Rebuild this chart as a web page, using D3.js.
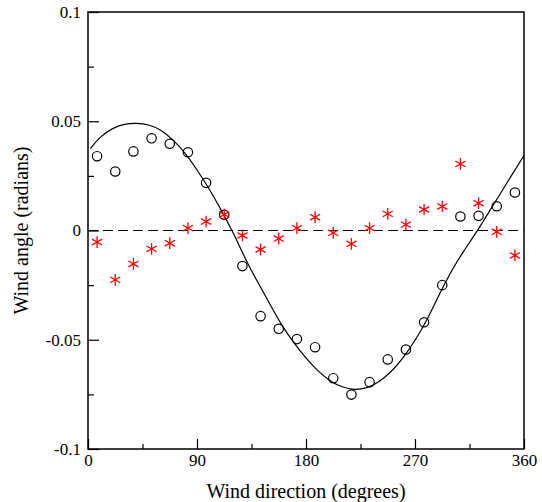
<!DOCTYPE html>
<html>
<head>
<meta charset="utf-8">
<script src="https://cdn.jsdelivr.net/npm/d3@7"></script>
<style>
  body { margin: 0; background: #fff; }
  text { font-family: "Liberation Serif", "Times New Roman", serif; }
</style>
</head>
<body>
<div id="chart"></div>
<script>
// Wind directions of the measured bins (degrees)
const directions = [7.5, 22.5, 37.5, 52.5, 67.5, 82.5, 97.5, 112.5, 127.5, 142.5, 157.5, 172.5,
                    187.5, 202.5, 217.5, 232.5, 247.5, 262.5, 277.5, 292.5, 307.5, 322.5, 337.5, 352.5];

// Open circles (black)
const circleValues = [0.034, 0.027, 0.0362, 0.0422, 0.0397, 0.0358, 0.0218, 0.0072, -0.0163, -0.0392, -0.045, -0.0497,
                      -0.0534, -0.0676, -0.0751, -0.0694, -0.059, -0.0545, -0.042, -0.025, 0.0064, 0.0067, 0.0111, 0.0174];

// Red asterisks
const starValues = [-0.0053, -0.0226, -0.0153, -0.0084, -0.0058, 0.0011, 0.0041, 0.0073, -0.0023, -0.0087, -0.0037, 0.0011,
                    0.0061, -0.0011, -0.0061, 0.0011, 0.0076, 0.0027, 0.0096, 0.011, 0.0305, 0.0125, -0.0006, -0.0114];

// Fitted curve
const curveDirections = [2, 10, 20, 30, 40, 50, 60, 70, 80, 90, 100, 110, 120, 130, 140, 150, 160, 170, 180,
                         190, 200, 210, 220, 230, 240, 250, 260, 270, 280, 290, 300, 310, 320, 330, 340, 350, 360];
const curveValues = [0.0375, 0.043, 0.0468, 0.0488, 0.0492, 0.0486, 0.0462, 0.0417, 0.0357, 0.0278, 0.0192, 0.0094,
                     -0.001, -0.0132, -0.0235, -0.0335, -0.0435, -0.0515, -0.0585, -0.0645, -0.069, -0.0718, -0.073,
                     -0.0722, -0.0695, -0.065, -0.0585, -0.0505, -0.041, -0.0292, -0.0185, -0.0095, -0.0015, 0.0075,
                     0.0165, 0.0255, 0.0343];

const xMajor = [0, 90, 180, 270, 360];
const xMinor = [45, 135, 225, 315];
const yMajor = [-0.1, -0.05, 0, 0.05, 0.1];
const yMajorLabels = ["-0.1", "-0.05", "0", "0.05", "0.1"];
const yMinor = [-0.075, -0.025, 0.025, 0.075];

const width = 542, height = 502;
const margin = { top: 12, right: 18, bottom: 53, left: 88 };
const w = width - margin.left - margin.right;
const h = height - margin.top - margin.bottom;

const svg = d3.select("#chart")
    .append("svg")
    .attr("width", width)
    .attr("height", height);

const g = svg.append("g")
    .attr("transform", `translate(${margin.left},${margin.top})`);

const x = d3.scaleLinear().domain([0, 360]).range([0, w]);
const y = d3.scaleLinear().domain([-0.1, 0.1]).range([h, 0]);

// zero line (dashed)
g.append("line")
    .attr("x1", x(0)).attr("x2", x(360))
    .attr("y1", y(0)).attr("y2", y(0))
    .attr("stroke", "#000")
    .attr("stroke-width", 1.1)
    .attr("stroke-dasharray", "10,5");

// fitted curve
const line = d3.line()
    .x(d => x(d[0]))
    .y(d => y(d[1]))
    .curve(d3.curveBasis);

g.append("path")
    .datum(curveDirections.map((d, i) => [d, curveValues[i]]))
    .attr("d", line)
    .attr("fill", "none")
    .attr("stroke", "#000")
    .attr("stroke-width", 1.2);

// circles
g.selectAll(".pt")
    .data(directions)
    .enter()
    .append("circle")
    .attr("class", "pt")
    .attr("cx", d => x(d))
    .attr("cy", (d, i) => y(circleValues[i]))
    .attr("r", 4.7)
    .attr("fill", "none")
    .attr("stroke", "#000")
    .attr("stroke-width", 1.2);

// red asterisks
const star = d3.symbol().type(d3.symbolAsterisk).size(95);
g.selectAll(".star")
    .data(directions)
    .enter()
    .append("path")
    .attr("class", "star")
    .attr("d", star)
    .attr("transform", (d, i) => `translate(${x(d)},${y(starValues[i])})`)
    .attr("fill", "none")
    .attr("stroke", "#ff0000")
    .attr("stroke-width", 1.3);

// axes with inward ticks
g.append("g")
    .attr("transform", `translate(0,${h})`)
    .call(d3.axisBottom(x).tickValues(xMajor).tickSize(-10).tickPadding(5).tickFormat(d3.format("d")));
g.append("g")
    .attr("transform", `translate(0,${h})`)
    .call(d3.axisBottom(x).tickValues(xMinor).tickSize(-5).tickFormat(""));

g.append("g")
    .call(d3.axisLeft(y).tickValues(yMajor).tickSize(-11).tickPadding(7)
        .tickFormat((d, i) => yMajorLabels[i]));
g.append("g")
    .call(d3.axisLeft(y).tickValues(yMinor).tickSize(-6).tickFormat(""));

g.selectAll(".domain").remove();
g.selectAll(".tick line").attr("stroke", "#000").attr("stroke-width", 1.2);
g.selectAll(".tick text")
    .style("font-family", "'Liberation Serif', serif")
    .style("font-size", "17px")
    .attr("fill", "#000");

// frame
g.append("rect")
    .attr("x", 0).attr("y", 0)
    .attr("width", w).attr("height", h)
    .attr("fill", "none")
    .attr("stroke", "#000")
    .attr("stroke-width", 1.5);

// axis titles
svg.append("text")
    .attr("x", margin.left + w / 2)
    .attr("y", 498)
    .attr("text-anchor", "middle")
    .style("font-size", "20px")
    .text("Wind direction (degrees)");

svg.append("text")
    .attr("transform", `translate(28,${margin.top + h / 2}) rotate(-90)`)
    .attr("text-anchor", "middle")
    .style("font-size", "20px")
    .text("Wind angle (radians)");
</script>
</body>
</html>
